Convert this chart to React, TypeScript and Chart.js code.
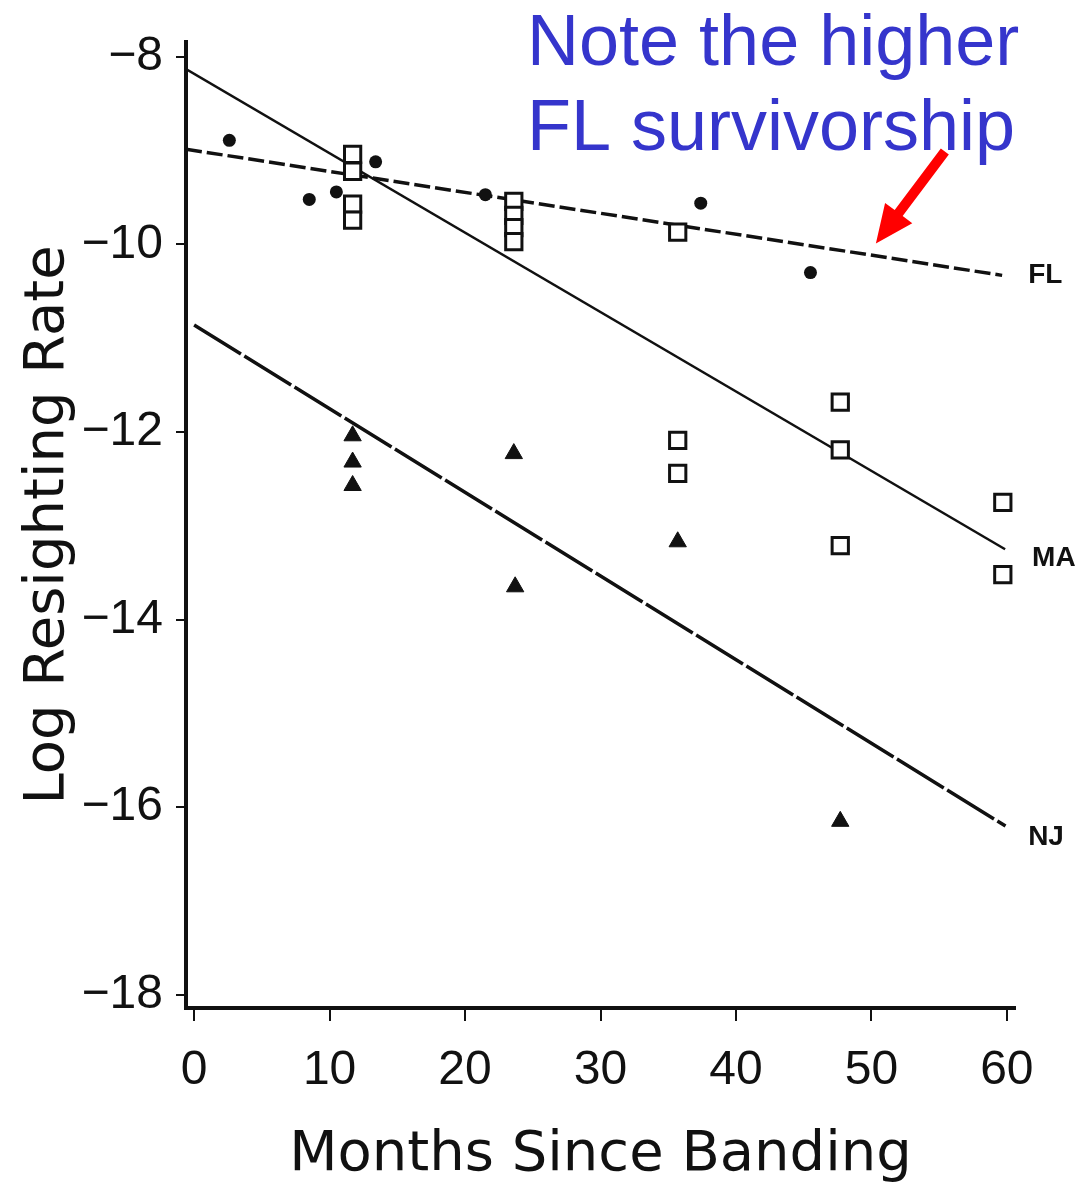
import React, { useEffect, useRef } from 'react';
import { Chart, registerables } from 'chart.js';

Chart.register(...registerables);

// Florida (filled circles)
const flX = [2.6, 8.5, 10.5, 13.4, 21.5, 37.4, 45.5];
const flY = [-8.89, -9.52, -9.44, -9.12, -9.47, -9.56, -10.3];
// Massachusetts (open squares)
const maX = [11.7, 11.7, 11.7, 11.7, 23.6, 23.6, 23.6, 23.6, 35.7, 35.7, 35.7, 47.7, 47.7, 47.7, 59.7, 59.7];
const maY = [-9.04, -9.22, -9.57, -9.74, -9.54, -9.69, -9.82, -9.97, -9.87, -12.09, -12.44, -11.68, -12.19, -13.21, -12.75, -13.52];
// New Jersey (filled triangles)
const njX = [11.7, 11.7, 11.7, 23.6, 23.7, 35.7, 47.7];
const njY = [-12.04, -12.32, -12.57, -12.23, -13.65, -13.17, -16.15];

// Regression lines (end points)
const flLineX = [-0.6, 59.65];
const flLineY = [-8.985, -10.33];
const maLineX = [-0.6, 59.87];
const maLineY = [-8.13, -13.25];
const njLineX = [0, 59.9];
const njLineY = [-10.86, -16.2];

const xTicks = [0, 10, 20, 30, 40, 50, 60];
const yTicks = [-8, -10, -12, -14, -16, -18];

const seriesNames = ['FL', 'MA', 'NJ'];
const labelX = [61.57, 61.86, 61.57];
const labelY = [-10.33, -13.345, -16.315];

const noteLines = ['Note the higher', 'FL survivorship'];
const arrowTail = { x: 55.42, y: -9.01 };
const arrowTip = { x: 50.33, y: -9.99 };

const xTitle = 'Months Since Banding';
const yTitle = 'Log Resighting Rate';

const INK = '#111111';

const pts = (xs: number[], ys: number[]) => xs.map((x, i) => ({ x, y: ys[i] }));

const annotationPlugin = {
  id: 'annotations',
  afterDraw(chart: any) {
    const { ctx, scales } = chart;
    const xs = scales.x;
    const ys = scales.y;
    ctx.save();
    // series labels at line ends
    ctx.fillStyle = INK;
    ctx.font = 'bold 28px "Liberation Sans", Arial, sans-serif';
    ctx.textAlign = 'left';
    ctx.textBaseline = 'middle';
    seriesNames.forEach((t, i) => {
      ctx.fillText(t, xs.getPixelForValue(labelX[i]), ys.getPixelForValue(labelY[i]));
    });
    // note text
    ctx.fillStyle = '#3535cc';
    ctx.font = '72px "Liberation Sans", Arial, sans-serif';
    ctx.textBaseline = 'alphabetic';
    noteLines.forEach((t, i) => {
      ctx.fillText(t, 527, 65 + i * 85);
    });
    // red arrow
    const tx = xs.getPixelForValue(arrowTail.x);
    const ty = ys.getPixelForValue(arrowTail.y);
    const px = xs.getPixelForValue(arrowTip.x);
    const py = ys.getPixelForValue(arrowTip.y);
    const dx = px - tx;
    const dy = py - ty;
    const len = Math.hypot(dx, dy);
    const ux = dx / len;
    const uy = dy / len;
    const nx = -uy;
    const ny = ux;
    const headLen = 38;
    const headHalf = 17;
    const shaftHalf = 5;
    const bx = px - ux * headLen;
    const by = py - uy * headLen;
    ctx.fillStyle = '#ff0000';
    ctx.beginPath();
    ctx.moveTo(tx + nx * shaftHalf, ty + ny * shaftHalf);
    ctx.lineTo(bx + nx * shaftHalf, by + ny * shaftHalf);
    ctx.lineTo(bx + nx * headHalf, by + ny * headHalf);
    ctx.lineTo(px, py);
    ctx.lineTo(bx - nx * headHalf, by - ny * headHalf);
    ctx.lineTo(bx - nx * shaftHalf, by - ny * shaftHalf);
    ctx.lineTo(tx - nx * shaftHalf, ty - ny * shaftHalf);
    ctx.closePath();
    ctx.fill();
    ctx.restore();
  },
};

export default function App() {
  const ref = useRef<HTMLCanvasElement>(null);
  useEffect(() => {
    const canvas = ref.current;
    if (!canvas) return;
    const tickFont = { family: '"Liberation Sans", Arial, sans-serif', size: 48 };
    const titleFont = { family: '"DejaVu Sans", sans-serif', size: 56, lineHeight: 1 };
    const chart = new Chart(canvas, {
      type: 'scatter',
      data: {
        datasets: [
          {
            label: 'FL',
            data: pts(flX, flY),
            pointStyle: 'circle',
            pointRadius: 6.5,
            backgroundColor: INK,
            borderColor: INK,
            borderWidth: 0,
          },
          {
            label: 'MA',
            data: pts(maX, maY),
            pointStyle: 'rect',
            pointRadius: 11.5,
            backgroundColor: '#ffffff',
            borderColor: INK,
            borderWidth: 3,
          },
          {
            label: 'NJ',
            data: pts(njX, njY),
            pointStyle: 'triangle',
            pointRadius: 10,
            backgroundColor: INK,
            borderColor: INK,
            borderWidth: 1,
          },
          {
            label: 'FL fit',
            data: pts(flLineX, flLineY),
            showLine: true,
            pointRadius: 0,
            borderColor: INK,
            borderWidth: 3.5,
            borderDash: [16, 5],
          },
          {
            label: 'MA fit',
            data: pts(maLineX, maLineY),
            showLine: true,
            pointRadius: 0,
            borderColor: INK,
            borderWidth: 2.5,
          },
          {
            label: 'NJ fit',
            data: pts(njLineX, njLineY),
            showLine: true,
            pointRadius: 0,
            borderColor: INK,
            borderWidth: 3.5,
            borderDash: [55, 4],
          },
        ],
      } as any,
      options: {
        responsive: false,
        animation: false,
        devicePixelRatio: 1,
        layout: { padding: { top: 37, right: 76, left: 0, bottom: 0 } },
        plugins: {
          legend: { display: false },
          tooltip: { enabled: false },
        },
        scales: {
          x: {
            type: 'linear',
            min: -0.6,
            max: 60.6,
            afterBuildTicks: (s: any) => {
              s.ticks = xTicks.map((v) => ({ value: v }));
            },
            afterFit: (s: any) => {
              s.height = 175;
            },
            ticks: {
              font: tickFont,
              color: INK,
              padding: 21,
              maxRotation: 0,
              autoSkip: false,
            },
            grid: {
              drawOnChartArea: false,
              drawTicks: true,
              tickLength: 13,
              color: INK,
              lineWidth: 2,
            },
            border: { display: true, color: INK, width: 4 },
            title: {
              display: true,
              text: xTitle,
              color: INK,
              font: titleFont,
              padding: { top: 0, bottom: 0 },
            },
          },
          y: {
            type: 'linear',
            min: -18.14,
            max: -7.84,
            afterBuildTicks: (s: any) => {
              s.ticks = yTicks.map((v) => ({ value: v }));
            },
            afterFit: (s: any) => {
              s.width = 186;
            },
            ticks: {
              font: tickFont,
              color: INK,
              padding: 13,
              autoSkip: false,
              callback: (v: any) => '\u2212' + Math.abs(Number(v)),
            },
            grid: {
              drawOnChartArea: false,
              drawTicks: true,
              tickLength: 10,
              color: INK,
              lineWidth: 2,
            },
            border: { display: true, color: INK, width: 4 },
            title: {
              display: true,
              text: yTitle,
              color: INK,
              font: titleFont,
              padding: { top: 20, bottom: 0 },
            },
          },
        },
      } as any,
      plugins: [annotationPlugin],
    });
    return () => chart.destroy();
  }, []);
  return (
    <div style={{ position: 'absolute', left: 0, top: 0, width: 1091, height: 1183, background: '#ffffff' }}>
      <canvas ref={ref} width={1091} height={1183} style={{ display: 'block' }} />
    </div>
  );
}
